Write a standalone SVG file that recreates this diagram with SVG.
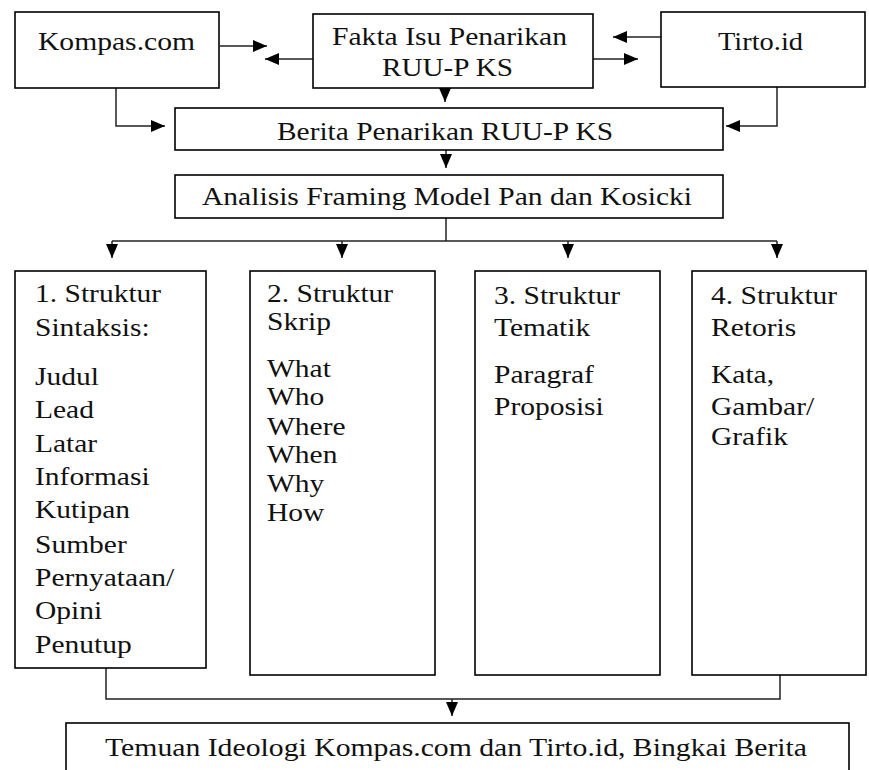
<svg xmlns="http://www.w3.org/2000/svg" width="869" height="770" viewBox="0 0 869 770" font-family="Liberation Serif, DejaVu Serif, serif">
<style>
  .box { fill: #fff; stroke: #000; stroke-width: 1.6; }
  text { font-family: 'Liberation Serif', 'DejaVu Serif', serif; font-size: 25px; fill: #111; }
  .c { text-anchor: middle; }
  .ln { fill: none; stroke: #222; stroke-width: 1.5; }
</style>
<defs>
  <marker id="ah" viewBox="0 0 14 12" refX="14" refY="6" markerWidth="14" markerHeight="12" markerUnits="userSpaceOnUse" orient="auto">
    <path d="M0,0 L14,6 L0,12 z" fill="#000"/>
  </marker>
</defs>
<rect width="869" height="770" fill="#fff"/>

<g id="connectors">
  <line class="ln" x1="220" y1="46" x2="267" y2="46" marker-end="url(#ah)"/>
  <line class="ln" x1="313" y1="59" x2="265" y2="59" marker-end="url(#ah)"/>
  <line class="ln" x1="661" y1="37" x2="613" y2="37" marker-end="url(#ah)"/>
  <line class="ln" x1="593" y1="59" x2="638" y2="59" marker-end="url(#ah)"/>
  <line class="ln" x1="445" y1="88" x2="445" y2="102" marker-end="url(#ah)"/>
  <polyline class="ln" points="116,88 116,126 165,126" marker-end="url(#ah)"/>
  <polyline class="ln" points="777,87 777,126 726,126" marker-end="url(#ah)"/>
  <line class="ln" x1="446" y1="150" x2="446" y2="168" marker-end="url(#ah)"/>
  <polyline class="ln" points="446,218 446,241" />
  <line class="ln" x1="112" y1="241" x2="777" y2="241"/>
  <line class="ln" x1="112" y1="241" x2="112" y2="258" marker-end="url(#ah)"/>
  <line class="ln" x1="342" y1="241" x2="342" y2="258" marker-end="url(#ah)"/>
  <line class="ln" x1="568" y1="241" x2="568" y2="258" marker-end="url(#ah)"/>
  <line class="ln" x1="777" y1="241" x2="777" y2="258" marker-end="url(#ah)"/>
  <polyline class="ln" points="106,668 106,699 780,699 780,675"/>
  <line class="ln" x1="452" y1="699" x2="452" y2="716" marker-end="url(#ah)"/>
</g>

<g id="kompas">
  <rect class="box" x="15" y="12" width="204" height="76"/>
  <text class="c" x="116.5" y="50" textLength="157" lengthAdjust="spacingAndGlyphs">Kompas.com</text>
</g>
<g id="fakta">
  <rect class="box" x="313" y="14" width="280" height="74"/>
  <text class="c" x="449.5" y="45" textLength="235" lengthAdjust="spacingAndGlyphs">Fakta Isu Penarikan</text>
  <text class="c" x="447.5" y="76" textLength="131" lengthAdjust="spacingAndGlyphs">RUU-P KS</text>
</g>
<g id="tirto">
  <rect class="box" x="661" y="12" width="204" height="75"/>
  <text class="c" x="760.5" y="50" textLength="85" lengthAdjust="spacingAndGlyphs">Tirto.id</text>
</g>
<g id="berita">
  <rect class="box" x="175" y="108" width="548" height="42"/>
  <text class="c" x="445" y="140" textLength="336" lengthAdjust="spacingAndGlyphs">Berita Penarikan RUU-P KS</text>
</g>
<g id="analisis">
  <rect class="box" x="175" y="175" width="548" height="43"/>
  <text class="c" x="447" y="205" textLength="490" lengthAdjust="spacingAndGlyphs">Analisis Framing Model Pan dan Kosicki</text>
</g>

<g id="sintaksis">
  <rect class="box" x="15" y="271" width="191" height="397"/>
  <g transform="translate(35 0) scale(1.18 1)">
    <text x="0" y="302">1. Struktur</text>
    <text x="0" y="336">Sintaksis:</text>
    <text x="0" y="385">Judul</text>
    <text x="0" y="418">Lead</text>
    <text x="0" y="452">Latar</text>
    <text x="0" y="485">Informasi</text>
    <text x="0" y="518">Kutipan</text>
    <text x="0" y="553">Sumber</text>
    <text x="0" y="586">Pernyataan/</text>
    <text x="0" y="619">Opini</text>
    <text x="0" y="653">Penutup</text>
  </g>
</g>
<g id="skrip">
  <rect class="box" x="250" y="271" width="185" height="404"/>
  <g transform="translate(267 0) scale(1.18 1)">
    <text x="0" y="302">2. Struktur</text>
    <text x="0" y="330">Skrip</text>
    <text x="0" y="377">What</text>
    <text x="0" y="405">Who</text>
    <text x="0" y="435">Where</text>
    <text x="0" y="463">When</text>
    <text x="0" y="492">Why</text>
    <text x="0" y="521">How</text>
  </g>
</g>
<g id="tematik">
  <rect class="box" x="475" y="271" width="185" height="404"/>
  <g transform="translate(494 0) scale(1.18 1)">
    <text x="0" y="304">3. Struktur</text>
    <text x="0" y="336">Tematik</text>
    <text x="0" y="383">Paragraf</text>
    <text x="0" y="415">Proposisi</text>
  </g>
</g>
<g id="retoris">
  <rect class="box" x="692" y="271" width="174" height="404"/>
  <g transform="translate(711 0) scale(1.18 1)">
    <text x="0" y="304">4. Struktur</text>
    <text x="0" y="336">Retoris</text>
    <text x="0" y="383">Kata,</text>
    <text x="0" y="415">Gambar/</text>
    <text x="0" y="445">Grafik</text>
  </g>
</g>

<g id="temuan">
  <rect class="box" x="66" y="723" width="783" height="70"/>
  <text class="c" x="456" y="756" textLength="702" lengthAdjust="spacingAndGlyphs">Temuan Ideologi Kompas.com dan Tirto.id, Bingkai Berita</text>
</g>
</svg>
